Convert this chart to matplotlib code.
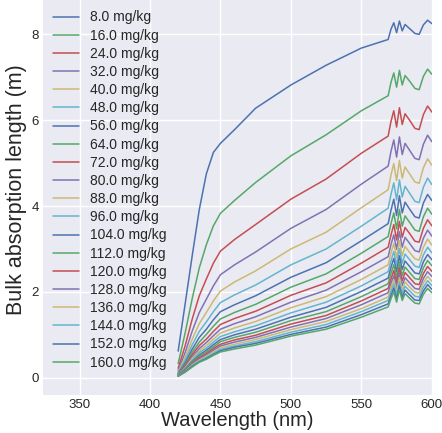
import numpy as np
import matplotlib
matplotlib.use("Agg")
import matplotlib.pyplot as plt

# wavelengths (nm) where the curves were read
wavelength = [420, 425, 430, 435, 440, 445, 450, 460, 475, 500, 525, 550, 569,
              571, 573, 575, 577, 579, 581, 584, 588, 591, 594, 597, 600]

# concentrations (mg/kg)
concentration = [8.0, 16.0, 24.0, 32.0, 40.0, 48.0, 56.0, 64.0, 72.0, 80.0,
                 88.0, 96.0, 104.0, 112.0, 120.0, 128.0, 136.0, 144.0, 152.0, 160.0]

# bulk absorption length (m), one row per concentration
length_8 = [0.62, 1.73, 2.85, 3.92, 4.75, 5.25, 5.46, 5.78, 6.28, 6.82, 7.28, 7.68, 7.88, 8.12, 8.27, 8.04, 8.31, 8.08, 8.23, 8.14, 8.02, 8.00, 8.22, 8.33, 8.25]
length_16 = [0.33, 1.05, 1.85, 2.56, 3.10, 3.54, 3.83, 4.13, 4.55, 5.17, 5.66, 6.22, 6.57, 6.88, 7.10, 6.77, 7.16, 6.82, 7.04, 6.92, 6.74, 6.71, 7.02, 7.19, 7.07]
length_24 = [0.22, 0.75, 1.37, 1.91, 2.30, 2.67, 2.95, 3.22, 3.57, 4.16, 4.63, 5.23, 5.63, 5.97, 6.22, 5.84, 6.29, 5.90, 6.15, 6.01, 5.81, 5.78, 6.13, 6.33, 6.19]
length_32 = [0.17, 0.59, 1.09, 1.52, 1.83, 2.14, 2.40, 2.63, 2.93, 3.48, 3.92, 4.51, 4.93, 5.27, 5.54, 5.14, 5.61, 5.20, 5.46, 5.31, 5.11, 5.08, 5.44, 5.65, 5.50]
length_40 = [0.14, 0.48, 0.90, 1.26, 1.52, 1.79, 2.02, 2.23, 2.49, 3.00, 3.39, 3.96, 4.38, 4.72, 4.99, 4.59, 5.06, 4.65, 4.91, 4.76, 4.56, 4.53, 4.89, 5.10, 4.95]
length_48 = [0.115, 0.41, 0.77, 1.08, 1.30, 1.54, 1.75, 1.93, 2.16, 2.63, 3.00, 3.53, 3.95, 4.27, 4.54, 4.14, 4.61, 4.21, 4.46, 4.31, 4.11, 4.08, 4.44, 4.65, 4.50]
length_56 = [0.099, 0.35, 0.67, 0.94, 1.13, 1.35, 1.54, 1.70, 1.91, 2.34, 2.68, 3.19, 3.59, 3.90, 4.16, 3.78, 4.24, 3.84, 4.09, 3.94, 3.75, 3.72, 4.07, 4.27, 4.13]
length_64 = [0.087, 0.31, 0.60, 0.83, 1.01, 1.20, 1.37, 1.52, 1.71, 2.11, 2.42, 2.90, 3.29, 3.59, 3.84, 3.47, 3.92, 3.53, 3.77, 3.63, 3.44, 3.41, 3.75, 3.95, 3.81]
length_72 = [0.077, 0.28, 0.54, 0.75, 0.90, 1.08, 1.24, 1.38, 1.55, 1.92, 2.21, 2.67, 3.04, 3.32, 3.57, 3.21, 3.64, 3.27, 3.50, 3.37, 3.18, 3.16, 3.48, 3.68, 3.54]
length_80 = [0.069, 0.25, 0.49, 0.68, 0.82, 0.98, 1.13, 1.26, 1.42, 1.76, 2.04, 2.47, 2.82, 3.10, 3.33, 2.99, 3.40, 3.04, 3.27, 3.14, 2.96, 2.93, 3.25, 3.44, 3.30]
length_88 = [0.063, 0.23, 0.45, 0.62, 0.75, 0.90, 1.04, 1.16, 1.31, 1.63, 1.89, 2.29, 2.63, 2.90, 3.13, 2.79, 3.19, 2.84, 3.06, 2.93, 2.77, 2.74, 3.04, 3.23, 3.09]
length_96 = [0.058, 0.21, 0.41, 0.58, 0.69, 0.83, 0.96, 1.07, 1.21, 1.51, 1.76, 2.14, 2.47, 2.72, 2.94, 2.62, 3.01, 2.67, 2.88, 2.76, 2.60, 2.57, 2.86, 3.04, 2.91]
length_104 = [0.054, 0.20, 0.38, 0.53, 0.64, 0.77, 0.89, 1.00, 1.13, 1.41, 1.64, 2.01, 2.32, 2.57, 2.78, 2.47, 2.84, 2.52, 2.72, 2.60, 2.44, 2.42, 2.70, 2.87, 2.75]
length_112 = [0.050, 0.18, 0.36, 0.50, 0.60, 0.72, 0.84, 0.94, 1.06, 1.33, 1.54, 1.89, 2.19, 2.43, 2.63, 2.33, 2.69, 2.38, 2.58, 2.46, 2.31, 2.29, 2.56, 2.73, 2.61]
length_120 = [0.047, 0.17, 0.33, 0.47, 0.56, 0.68, 0.78, 0.88, 0.99, 1.25, 1.45, 1.79, 2.08, 2.30, 2.50, 2.21, 2.56, 2.26, 2.45, 2.34, 2.19, 2.17, 2.43, 2.59, 2.48]
length_128 = [0.044, 0.16, 0.31, 0.44, 0.53, 0.64, 0.74, 0.83, 0.94, 1.18, 1.38, 1.70, 1.98, 2.19, 2.38, 2.10, 2.44, 2.15, 2.33, 2.22, 2.08, 2.06, 2.31, 2.47, 2.36]
length_136 = [0.041, 0.15, 0.30, 0.41, 0.50, 0.60, 0.70, 0.78, 0.89, 1.12, 1.31, 1.61, 1.88, 2.09, 2.28, 2.01, 2.33, 2.05, 2.23, 2.12, 1.99, 1.97, 2.21, 2.36, 2.25]
length_144 = [0.039, 0.14, 0.28, 0.39, 0.47, 0.57, 0.66, 0.74, 0.84, 1.06, 1.24, 1.54, 1.80, 2.00, 2.18, 1.92, 2.23, 1.96, 2.13, 2.03, 1.90, 1.88, 2.11, 2.26, 2.15]
length_152 = [0.037, 0.14, 0.27, 0.37, 0.45, 0.54, 0.63, 0.71, 0.80, 1.01, 1.18, 1.47, 1.72, 1.91, 2.09, 1.83, 2.14, 1.87, 2.04, 1.94, 1.81, 1.80, 2.02, 2.17, 2.06]
length_160 = [0.035, 0.13, 0.25, 0.36, 0.43, 0.52, 0.60, 0.67, 0.76, 0.97, 1.13, 1.41, 1.65, 1.84, 2.00, 1.76, 2.05, 1.80, 1.96, 1.86, 1.74, 1.72, 1.94, 2.08, 1.98]

lengths = [length_8, length_16, length_24, length_32, length_40, length_48, length_56,
           length_64, length_72, length_80, length_88, length_96, length_104, length_112,
           length_120, length_128, length_136, length_144, length_152, length_160]

plt.style.use("seaborn-v0_8")
plt.rcParams['font.family'] = ['Liberation Sans', 'DejaVu Sans']

fig = plt.figure(figsize=(4.42, 4.33), dpi=100)
ax = fig.add_axes([0.097, 0.088, 0.880, 0.912])

for conc, vals in zip(concentration, lengths):
    ax.plot(wavelength, vals, lw=1.1, label=f"{conc} mg/kg")

ax.set_xlim(324, 600)
ax.set_ylim(-0.4, 8.8)
ax.set_xticks([350, 400, 450, 500, 550, 600])
ax.set_yticks([0, 2, 4, 6, 8])
ax.tick_params(labelsize=9.5, colors='#262626', pad=3)
ax.set_xlabel("Wavelength (nm)", fontsize=14.5, color='#262626', labelpad=0)
ax.set_ylabel("Bulk absorption length (m)", fontsize=15.5, color='#262626')
ax.yaxis.set_label_coords(-0.042, 0.52)
ax.legend(loc="upper left", fontsize=10, labelspacing=0.3, frameon=False,
          borderaxespad=0.35, handlelength=1.85)

fig.savefig("out.png", dpi=100)
